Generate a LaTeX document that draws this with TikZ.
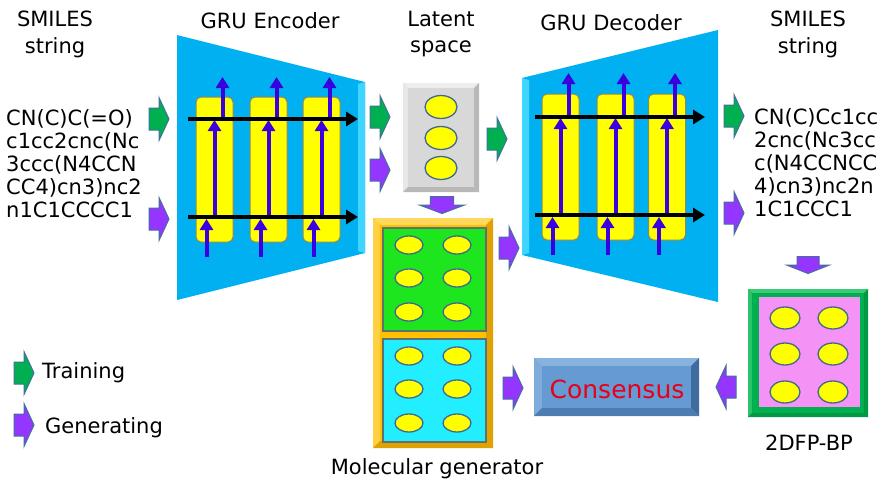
\documentclass[tikz,border=0pt]{standalone}
\usepackage{fontspec}
\setmainfont{DejaVu Sans}
\usetikzlibrary{arrows.meta}
\definecolor{trapc}{HTML}{00B0F0}
\definecolor{trapl}{HTML}{40D4FF}
\definecolor{cellc}{HTML}{FFFF00}
\definecolor{celll}{HTML}{8A8A5C}
\definecolor{bluea}{HTML}{3A00E0}
\definecolor{greena}{HTML}{00B050}
\definecolor{purpa}{HTML}{9436FF}
\definecolor{arrl}{HTML}{41719C}
\definecolor{elll}{HTML}{3F6A8F}
\definecolor{orng}{HTML}{FFC000}
\definecolor{orngl}{HTML}{FFD85C}
\definecolor{orngd}{HTML}{E0A200}
\definecolor{gpanel}{HTML}{1EE61E}
\definecolor{cpanel}{HTML}{22EEFF}
\definecolor{pnll}{HTML}{5E7070}
\definecolor{pinkc}{HTML}{F592F5}
\definecolor{frg}{HTML}{00B050}
\definecolor{frgl}{HTML}{3CCB78}
\definecolor{frgd}{HTML}{009A45}
\definecolor{consb}{HTML}{659BD2}
\definecolor{consl}{HTML}{86B2E0}
\definecolor{consd}{HTML}{4D7DB0}
\definecolor{consdd}{HTML}{3F6C9E}
\definecolor{consr}{HTML}{E8001A}
\definecolor{grayb}{HTML}{D8D8D8}
\definecolor{grayl}{HTML}{EDEDED}
\definecolor{grayd}{HTML}{B8B8B8}
\newcommand\BArr[5][]{%
  \coordinate (#2) at (#3);
  \filldraw[barrow, fill=#5, shift={(#3)}, rotate=#4, #1]
    (-10,-11) -- (0,-11) -- (0,-21.5) -- (10,0) -- (0,21.5) -- (0,11) -- (-10,11) -- cycle;}
\newcommand\BevelBox[9]{% x1 y1 x2 y2 d base light dark darker
  \fill[#6] (#1,#2) rectangle (#3,#4);
  \fill[#7] (#1,#2) -- (#3,#2) -- ({#3-#5},{#2+#5}) -- ({#1+#5},{#2+#5}) -- cycle;
  \fill[#7!70!#6] (#1,#2) -- ({#1+#5},{#2+#5}) -- ({#1+#5},{#4-#5}) -- (#1,#4) -- cycle;
  \fill[#9] (#3,#2) -- (#3,#4) -- ({#3-#5},{#4-#5}) -- ({#3-#5},{#2+#5}) -- cycle;
  \fill[#8] (#1,#4) -- (#3,#4) -- ({#3-#5},{#4-#5}) -- ({#1+#5},{#4-#5}) -- cycle;
  \fill[#6] ({#1+#5},{#2+#5}) rectangle ({#3-#5},{#4-#5});}
\begin{document}
\begin{tikzpicture}[x=1pt,y=-1pt,
  lbl/.style={font=\fontsize{21}{23}\selectfont, inner sep=0pt, text=black},
  barrow/.style={draw=arrl, line width=1pt, line join=miter},
  cell/.style={fill=cellc, draw=celll, line width=1pt, rounded corners=5pt},
  varr/.style={draw=bluea, line width=4pt, -{Triangle[width=13pt,length=11pt]}},
  harr/.style={draw=black, line width=4pt, -{Triangle[width=14pt,length=12pt]}},
  ell/.style={fill=cellc, draw=elll, line width=1.3pt},
  pnl/.style={draw=pnll, line width=1.2pt}]
\fill[white] (0,0) rectangle (888,496);
\useasboundingbox (0,0) rectangle (888,496);

% ---------- titles ----------
\node[lbl, anchor=base] (t1a) at (55,26) {SMILES};
\node[lbl, anchor=base] (t1b) at (55,53) {string};
\node[lbl, anchor=base] (t2) at (270,28) {GRU Encoder};
\node[lbl, anchor=base] (t3a) at (441,26) {Latent};
\node[lbl, anchor=base] (t3b) at (441,52) {space};
\node[lbl, anchor=base] (t4) at (611,30) {GRU Decoder};
\node[lbl, anchor=base] (t5a) at (808,26) {SMILES};
\node[lbl, anchor=base] (t5b) at (808,53) {string};

% ---------- SMILES texts ----------
\foreach \t [count=\i] in {{CN(C)C(=O)},{c1cc2cnc(Nc},{3ccc(N4CCN},{CC4)cn3)nc2},{n1C1CCCC1}}
  \node[lbl, anchor=base west] (ls\i) at (6,{125+23*(\i-1)}) {\t};
\foreach \t [count=\i] in {{CN(C)Cc1cc},{2cnc(Nc3cc},{c(N4CCNCC},{4)cn3)nc2n},{1C1CCC1}}
  \node[lbl, anchor=base west] (rs\i) at (754,{124+23*(\i-1)}) {\t};

% ---------- encoder ----------
\fill[trapc] (177,35) -- (365,82) -- (365,253) -- (177,300) -- cycle;
\fill[trapl] (358,84) -- (365,82) -- (365,253) -- (358,251) -- cycle;
\foreach \cx in {214.5,268.5,321.5} {
  \draw[cell] ({\cx-18.5},97) rectangle ({\cx+18.5},242);
  \draw[varr] ({\cx-8},257) -- ({\cx-8},219);
  \draw[varr] (\cx,217) -- (\cx,120);
  \draw[varr] ({\cx+8},119) -- ({\cx+8},77);
}
\coordinate (e1s) at (188,119); \coordinate (e1e) at (358,119);
\coordinate (e2s) at (188,217); \coordinate (e2e) at (358,217);
\draw[harr] (e1s) -- (e1e);
\draw[harr] (e2s) -- (e2e);

% ---------- decoder ----------
\fill[trapc] (522,78) -- (718,30) -- (718,302) -- (522,255) -- cycle;
\fill[trapl] (522,78) -- (529,80) -- (529,253) -- (522,255) -- cycle;
\foreach \cx in {560.5,615.5,667} {
  \draw[cell] ({\cx-18.5},94) rectangle ({\cx+18.5},240);
  \draw[varr] ({\cx-8},255) -- ({\cx-8},217);
  \draw[varr] (\cx,215) -- (\cx,118);
  \draw[varr] ({\cx+8},117) -- ({\cx+8},73);
}
\coordinate (d1s) at (535,117); \coordinate (d1e) at (705,117);
\coordinate (d2s) at (535,215); \coordinate (d2e) at (705,215);
\draw[harr] (d1s) -- (d1e);
\draw[harr] (d2s) -- (d2e);

% ---------- latent space ----------
\BevelBox{403}{83}{479}{192}{5}{grayb}{grayl}{grayd}{grayd}
\foreach \y in {107,138,168}
  \draw[ell] (441,\y) ellipse [x radius=16pt, y radius=11.5pt];

% ---------- molecular generator ----------
\BevelBox{373}{218}{493}{448}{7}{orng}{orngl}{orngd}{orngd}
\draw[pnl, fill=gpanel] (383,228) rectangle (486,331);
\draw[pnl, fill=cpanel] (383,339) rectangle (486,442);
\foreach \y in {245,278,312,356,389,423}
  \foreach \x in {409,457}
    \draw[ell] (\x,\y) ellipse [x radius=14pt, y radius=9pt];
\node[lbl, anchor=base] (mg) at (437,474) {Molecular generator};

% ---------- 2DFP-BP ----------
\BevelBox{748}{289}{868}{417}{4}{frg}{frgl}{frgd}{frgd}
\fill[pinkc] (759,297) rectangle (860,407);
\foreach \y in {318,354,392}
  \foreach \x in {785,833}
    \draw[ell] (\x,\y) ellipse [x radius=15pt, y radius=11pt];
\node[lbl, anchor=base] (fp) at (809,450) {2DFP-BP};

% ---------- consensus ----------
\BevelBox{534}{358}{699}{416}{8}{consb}{consl}{consd}{consdd}
\node[font=\fontsize{25}{28}\selectfont, inner sep=0pt, text=consr, anchor=base] (cons) at (617,398) {Consensus};

% ---------- block arrows ----------
\BArr{a1}{159,119}{0}{greena}
\BArr{a2}{159,219}{0}{purpa}
\BArr{a3}{380,117}{0}{greena}
\BArr{a4}{380,170}{0}{purpa}
\BArr{a5}{497,139}{0}{greena}
\BArr[xscale=0.85,yscale=1.05]{a6}{442,205}{-90}{purpa}
\BArr{a7}{509,248}{0}{purpa}
\BArr{a8}{513,388}{0}{purpa}
\BArr{a9}{726,387}{180}{purpa}
\BArr{a10}{734,116}{0}{greena}
\BArr{a11}{734,213}{0}{purpa}
\BArr[xscale=0.85]{a12}{808,265}{-90}{purpa}
\BArr{a13}{24,373}{0}{greena}
\BArr{a14}{24,425}{0}{purpa}

% ---------- legend ----------
\node[lbl, anchor=base west] (lg1) at (42,378) {Training};
\node[lbl, anchor=base west] (lg2) at (45,433) {Generating};
\end{tikzpicture}
\end{document}
